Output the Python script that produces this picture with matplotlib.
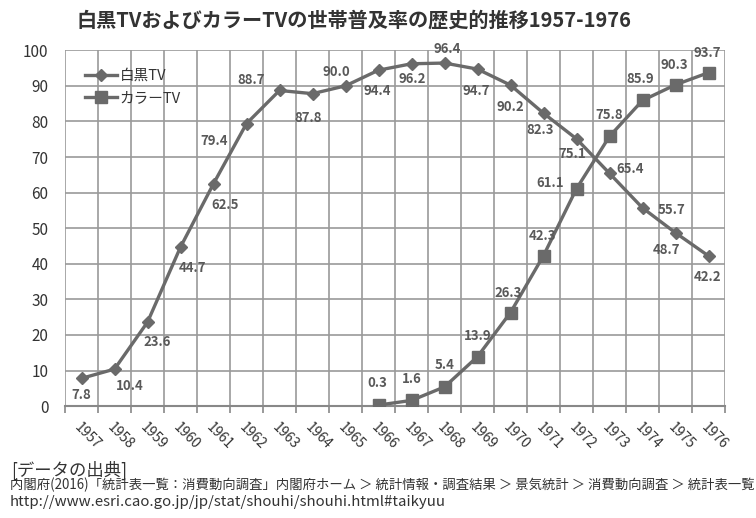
import matplotlib
matplotlib.use("Agg")
import matplotlib.pyplot as plt

plt.rcParams['font.family'] = ['Noto Sans CJK JP', 'DejaVu Sans']

# データ（内閣府 消費動向調査）
years = [str(y) for y in range(1957, 1977)]
bw_tv = [7.8, 10.4, 23.6, 44.7, 62.5, 79.4, 88.7, 87.8, 90.0, 94.4,
         96.2, 96.4, 94.7, 90.2, 82.3, 75.1, 65.4, 55.7, 48.7, 42.2]
color_years = [str(y) for y in range(1966, 1977)]
color_tv = [0.3, 1.6, 5.4, 13.9, 26.3, 42.3, 61.1, 75.8, 85.9, 90.3, 93.7]
y_ticks = list(range(0, 101, 10))

# ラベル位置のずらし（ピクセル）
bw_off = [(0, -17), (15, -17), (10, -20), (12, -21), (12, -21), (-32, -17),
          (-28, 10), (-4, -24), (-9, 14), (-1, -21), (1, -15), (3, 14),
          (-1, -22), (0, -22), (-3, -17), (-4, -15), (21, 4), (29, -2),
          (-9, -17), (-1, -21)]
col_off = [(-1, 22), (0, 21), (0, 22), (0, 21), (-2, 20), (-1, 20),
           (-26, 6), (0, 21), (-2, 21), (-1, 20), (-1, 20)]

line_c = '#6a6a6a'
lab_c = '#595959'

fig = plt.figure(figsize=(7.56, 5.18), dpi=100)
ax = fig.add_axes([0.086, 0.216, 0.873, 0.687])

xb = list(range(len(years)))
xc = [years.index(y) for y in color_years]

ax.plot(xb, bw_tv, color=line_c, lw=2.4, marker='D', ms=6, label='白黒TV', zorder=3)
ax.plot(xc, color_tv, color=line_c, lw=2.4, marker='s', ms=9, label='カラーTV', zorder=3)

for x, v, (dx, dy) in zip(xb, bw_tv, bw_off):
    ax.annotate(f'{v:.1f}', (x, v), xytext=(dx, dy), textcoords='offset pixels',
                ha='center', va='center', fontsize=9.5, fontweight='bold', color=lab_c)
for x, v, (dx, dy) in zip(xc, color_tv, col_off):
    ax.annotate(f'{v:.1f}', (x, v), xytext=(dx, dy), textcoords='offset pixels',
                ha='center', va='center', fontsize=9.5, fontweight='bold', color=lab_c)

ax.set_xlim(-0.5, len(years) - 0.5)
ax.set_ylim(0, 100)
ax.set_yticks(y_ticks)
ax.tick_params(axis='y', length=0, labelsize=11, labelcolor='#333333', pad=12)

ax.set_xticks(xb)
ax.set_xticklabels(years, rotation=-45, ha='left', va='top', rotation_mode='anchor')
ax.set_xticks([i - 0.5 for i in range(len(years) + 1)], minor=True)
ax.tick_params(axis='x', which='major', length=0, labelsize=10, labelcolor='#333333', pad=10)
ax.tick_params(axis='x', which='minor', length=5, color='#888888', width=1.2)

ax.grid(True, axis='y', which='major', color='#9a9a9a', lw=1.2)
ax.grid(True, axis='x', which='minor', color='#9a9a9a', lw=1.2)
ax.grid(False, axis='x', which='major')
ax.set_axisbelow(True)
for s in ['top', 'right', 'left']:
    ax.spines[s].set_visible(False)
ax.spines['bottom'].set_color('#888888')
ax.spines['bottom'].set_linewidth(1.5)

ax.legend(loc='upper left', bbox_to_anchor=(0.01, 0.985), frameon=False, fontsize=10.5,
          handlelength=2.2, handletextpad=0.2, labelspacing=0.6, labelcolor='#333333')

fig.text(0.468, 0.962, '白黒TVおよびカラーTVの世帯普及率の歴史的推移1957-1976',
         ha='center', va='center', fontsize=14.5, fontweight='bold', color='#333333')

fig.text(0.015, 0.092, '[データの出典]', ha='left', va='center', fontsize=12.5, color='#333333')
fig.text(0.013, 0.063,
         '内閣府(2016)「統計表一覧：消費動向調査」内閣府ホーム ＞ 統計情報・調査結果 ＞ 景気統計 ＞ 消費動向調査 ＞ 統計表一覧',
         ha='left', va='center', fontsize=9.6, color='#333333')
fig.text(0.013, 0.031, 'http://www.esri.cao.go.jp/jp/stat/shouhi/shouhi.html#taikyuu',
         ha='left', va='center', fontsize=10.8, color='#333333')

fig.savefig('out.png', dpi=100)
